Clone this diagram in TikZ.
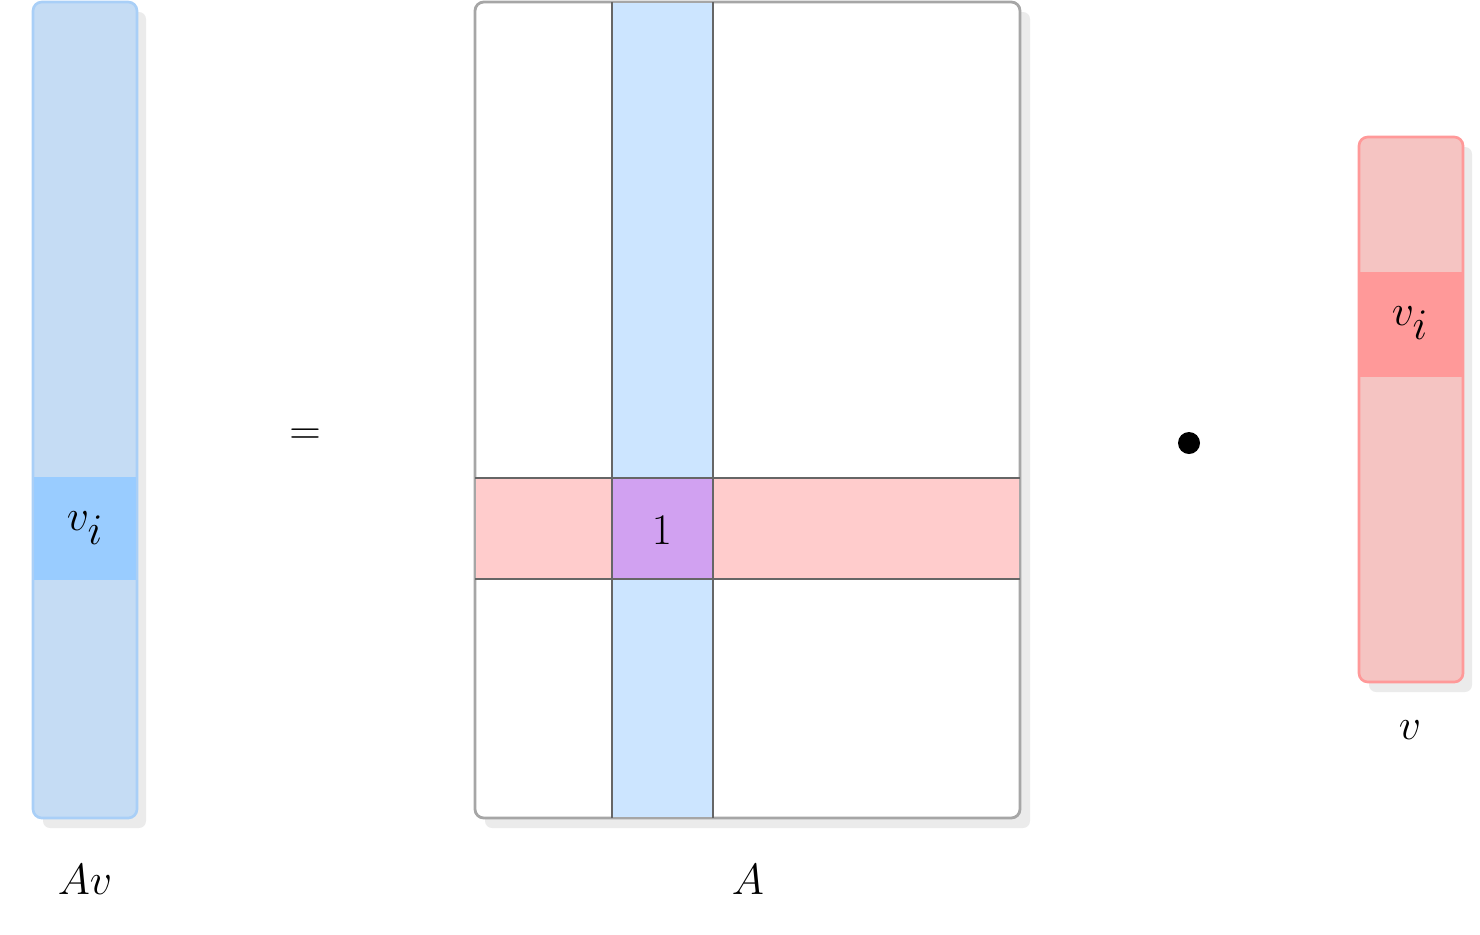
\documentclass[tikz,border=0pt]{standalone}
\begin{document}
\begin{tikzpicture}[x=0.02cm,y=-0.02cm,
  lbl/.style={font=\fontsize{40}{48}\selectfont, inner sep=0},
  shadowbox/.style={fill=black!8, draw=none, rounded corners=4},
  gridline/.style={draw=black!60, line width=1.6}]
\useasboundingbox (0,0) rectangle (1480,934);
\definecolor{bluebar}{HTML}{C5DCF4}
\definecolor{blueedge}{HTML}{A9CFF7}
\definecolor{bluecell}{HTML}{99CCFF}
\definecolor{colblue}{HTML}{CCE5FF}
\definecolor{rowpink}{HTML}{FFCCCC}
\definecolor{purp}{HTML}{D1A1F1}
\definecolor{pinkbar}{HTML}{F5C4C2}
\definecolor{pinkedge}{HTML}{FF9999}
% left vector
\fill[shadowbox] (43,12) rectangle (146,828);
\draw[fill=bluebar, draw=blueedge, line width=1.5, rounded corners=5] (33,2) rectangle (137,818);
\fill[bluecell] (34,477) rectangle (136,580);
\node[lbl] (vi1) at (85,528) {$v_i$};
\node[lbl] (Av) at (85,880) {$Av$};
% equals
\node[lbl] (eq) at (305,437) {$=$};
% matrix
\fill[shadowbox] (485,12) rectangle (1030,828);
\draw[fill=white, draw=black!35, line width=1.6, rounded corners=5] (475,2) rectangle (1020,818);
\fill[colblue] (612,3) rectangle (713,817);
\fill[rowpink] (476,478) rectangle (1019,579);
\fill[purp] (612,478) rectangle (713,579);
\draw[gridline] (612,2) -- (612,818) (713,2) -- (713,818) (475,478) -- (1020,478) (475,579) -- (1020,579);
\node[lbl] (one) at (662,530) {$1$};
\node[lbl] (A) at (748,880) {$A$};
% dot
\fill (1189,443) circle (11);
% right vector
\fill[shadowbox] (1369,147) rectangle (1472,692);
\draw[fill=pinkbar, draw=pinkedge, line width=1.5, rounded corners=5] (1359,137) rectangle (1463,682);
\fill[pinkedge] (1360,272) rectangle (1462,377);
\node[lbl] (vi2) at (1410,323) {$v_i$};
\node[lbl] (v) at (1410,730) {$v$};
\end{tikzpicture}
\end{document}
